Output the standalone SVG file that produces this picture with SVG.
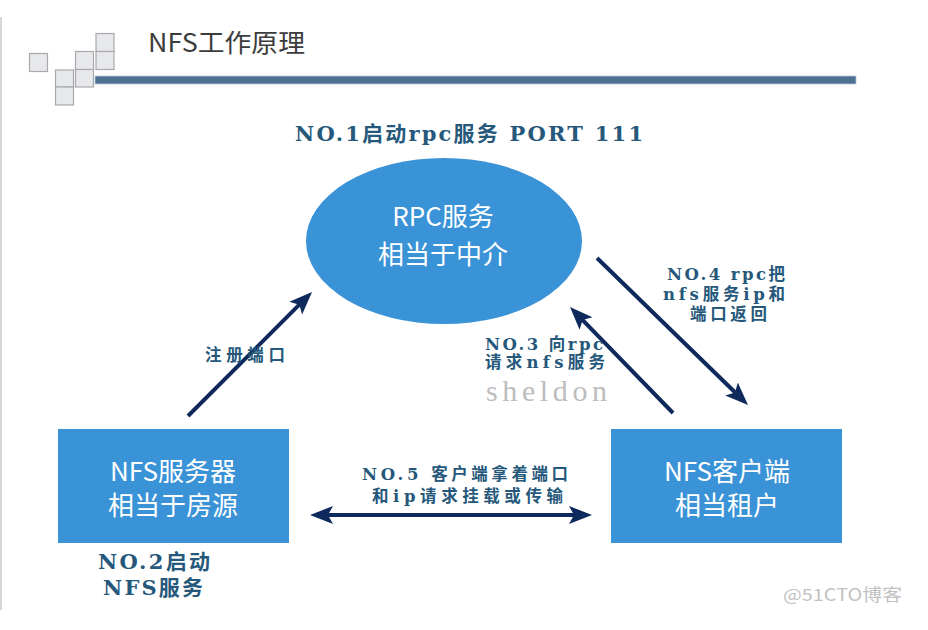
<svg xmlns="http://www.w3.org/2000/svg" width="928" height="630" viewBox="0 0 928 630">
<style>
.sq{fill:#e7e8eb;stroke:#a9a9ab;stroke-width:1.2}
.node{fill:#3a92d7}
.nt{font-family:"Noto Sans CJK SC","Noto Sans",sans-serif;font-size:26px;fill:#ffffff;text-anchor:middle}
.lbl{font-family:"DejaVu Serif","Noto Sans CJK SC",serif;fill:#25587a}
.big{font-size:21px;font-weight:bold}
.sm{font-size:16.5px;font-weight:bold}
.conn{stroke:#0e2a5c;stroke-width:4;fill:none}
</style>
<defs>
<marker id="ah" markerUnits="userSpaceOnUse" markerWidth="24" markerHeight="20" viewBox="0 0 24 20" refX="17" refY="10" orient="auto-start-reverse">
<path d="M0,1 L23,10 L0,19 L5,10 z" fill="#0e2a5c"/>
</marker>
</defs>
<rect width="928" height="630" fill="#ffffff"/>
<g id="header">
<line x1="1" y1="17" x2="1" y2="610" stroke="#c9c9c9" stroke-width="1.5"/>
<rect class="sq" x="29.5" y="53.5" width="18" height="18"/>
<rect class="sq" x="55.5" y="70" width="18" height="17"/>
<rect class="sq" x="55.5" y="87" width="18" height="18"/>
<rect class="sq" x="75.5" y="51.5" width="18" height="18"/>
<rect class="sq" x="75.5" y="69.5" width="18" height="17.5"/>
<rect class="sq" x="96" y="33.5" width="18" height="18"/>
<rect class="sq" x="96" y="51.5" width="18" height="18"/>
<rect x="95" y="76" width="761" height="8" fill="#4f7191" stroke="#bccbd8" stroke-width="0.8"/>
<text x="148" y="52" font-family="Noto Sans CJK SC,Noto Sans,sans-serif" font-size="25" fill="#3c3c3c" textLength="157" lengthAdjust="spacingAndGlyphs">NFS工作原理</text>
</g>
<g id="connectors">
<line class="conn" x1="188" y1="416" x2="307.8" y2="296.2" marker-end="url(#ah)"/>
<line class="conn" x1="673" y1="413" x2="574.2" y2="311.3" marker-end="url(#ah)"/>
<line class="conn" x1="597" y1="258" x2="743.7" y2="400.8" marker-end="url(#ah)"/>
<line class="conn" x1="316" y1="515" x2="586" y2="515" marker-start="url(#ah)" marker-end="url(#ah)"/>
</g>
<g id="rpc">
<ellipse class="node" cx="444" cy="241" rx="138" ry="83"/>
<text class="nt" x="443" y="226">RPC服务</text>
<text class="nt" x="443" y="264">相当于中介</text>
</g>
<g id="nfs-server">
<rect class="node" x="58" y="429" width="231" height="114"/>
<text class="nt" x="173" y="481">NFS服务器</text>
<text class="nt" x="173" y="515">相当于房源</text>
</g>
<g id="nfs-client">
<rect class="node" x="611" y="429" width="231" height="114"/>
<text class="nt" x="727" y="481">NFS客户端</text>
<text class="nt" x="727" y="515">相当租户</text>
</g>
<g id="labels">
<text class="lbl big" x="295" y="141" textLength="348" lengthAdjust="spacing">NO.1启动rpc服务 PORT 111</text>
<text class="lbl big" x="98" y="569" textLength="112" lengthAdjust="spacing">NO.2启动</text>
<text class="lbl big" x="103" y="595" textLength="100" lengthAdjust="spacing">NFS服务</text>
<text class="lbl sm" x="205" y="361" textLength="80" lengthAdjust="spacing">注册端口</text>
<text class="lbl sm" x="485" y="350" textLength="118" lengthAdjust="spacing">NO.3 向rpc</text>
<text class="lbl sm" x="485" y="368" textLength="120" lengthAdjust="spacing">请求nfs服务</text>
<text x="486" y="401" font-family="Liberation Serif,serif" font-size="30" fill="#bdbdbd" textLength="121" lengthAdjust="spacing">sheldon</text>
<text class="lbl sm" x="667" y="280" textLength="118" lengthAdjust="spacing">NO.4 rpc把</text>
<text class="lbl sm" x="663" y="300" textLength="122" lengthAdjust="spacing">nfs服务ip和</text>
<text class="lbl sm" x="690" y="320" textLength="77" lengthAdjust="spacing">端口返回</text>
<text class="lbl sm" x="362" y="480" textLength="206" lengthAdjust="spacing">NO.5 客户端拿着端口</text>
<text class="lbl sm" x="372" y="502" textLength="191" lengthAdjust="spacing">和ip请求挂载或传输</text>
<text x="783" y="601" font-family="Noto Sans CJK SC,Noto Sans,sans-serif" font-size="17" fill="#c2c2c2" textLength="119" lengthAdjust="spacingAndGlyphs">@51CTO博客</text>
</g>
</svg>
